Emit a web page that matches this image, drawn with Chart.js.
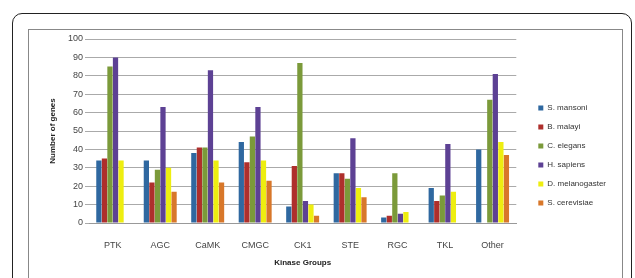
<!DOCTYPE html>
<html lang="en">
<head>
  <meta charset="UTF-8">
  <title>Kinase Groups</title>
  <style>
    html, body {
      margin: 0;
      padding: 0;
      width: 635px;
      height: 278px;
      overflow: hidden;
      background: #fff;
      font-family: "Liberation Sans", Arial, sans-serif;
    }
    #outer {
      position: absolute;
      left: 12px;
      top: 13px;
      width: 618px;
      height: 300px;
      border: 1.5px solid #222;
      border-radius: 10px;
    }
    #inner {
      position: absolute;
      left: 28px;
      top: 29px;
      width: 593px;
      height: 300px;
      border: 1px solid #888;
    }
    #wrap {
      position: absolute;
      left: 29px;
      top: 30px;
      width: 592px;
      height: 248px;
    }
  </style>
  <script src="https://cdn.jsdelivr.net/npm/chart.js"></script>
</head>
<body>
  <div id="outer"></div>
  <div id="inner"></div>
  <div id="wrap"><canvas id="myChart"></canvas></div>

  <script>
    // data
    const categories = ['PTK', 'AGC', 'CaMK', 'CMGC', 'CK1', 'STE', 'RGC', 'TKL', 'Other'];
    const sMansoni      = [34, 34, 38, 44,  9, 27, 3, 19, 40];
    const bMalayi       = [35, 22, 41, 33, 31, 27, 4, 12,  0];
    const cElegans      = [85, 29, 41, 47, 87, 24, 27, 15, 67];
    const hSapiens      = [90, 63, 83, 63, 12, 46, 5, 43, 81];
    const dMelanogaster = [34, 30, 34, 34, 10, 19, 6, 17, 44];
    const sCerevisiae   = [ 0, 17, 22, 23,  4, 14, 0,  0, 37];
    const yTicks = [0, 10, 20, 30, 40, 50, 60, 70, 80, 90, 100];

    const series = [
      { label: 'S. mansoni', data: sMansoni, color: '#2f68a0' },
      { label: 'B. malayi', data: bMalayi, color: '#ae2f2c' },
      { label: 'C. elegans', data: cElegans, color: '#7b9a3a' },
      { label: 'H. sapiens', data: hSapiens, color: '#5d4194' },
      { label: 'D. melanogaster', data: dMelanogaster, color: '#eeee10' },
      { label: 'S. cerevisiae', data: sCerevisiae, color: '#d8772a' }
    ];

    const ctx = document.getElementById('myChart').getContext('2d');
    const myChart = new Chart(ctx, {
      type: 'bar',
      data: {
        labels: categories,
        datasets: series.map(s => ({
          label: s.label,
          data: s.data,
          backgroundColor: s.color,
          borderWidth: 0,
          categoryPercentage: 0.7,
          barPercentage: 0.95
        }))
      },
      options: {
        responsive: true,
        maintainAspectRatio: false,
        animation: false,
        layout: { padding: { left: 15, top: 9, right: 5, bottom: 6 } },
        plugins: {
          tooltip: { enabled: false },
          legend: {
            position: 'right',
            labels: {
              boxWidth: 5,
              boxHeight: 5,
              padding: 11,
              color: '#333',
              font: { family: 'Liberation Sans', size: 8 }
            }
          }
        },
        scales: {
          x: {
            grid: { display: false },
            border: { color: '#999' },
            ticks: { color: '#444', font: { family: 'Liberation Sans', size: 9 }, padding: 9 },
            title: {
              display: true,
              text: 'Kinase Groups',
              color: '#222',
              font: { family: 'Liberation Sans', size: 8, weight: 'bold' },
              padding: { top: 2 }
            },
            afterFit: s => { s.height = 49; }
          },
          y: {
            min: 0,
            max: 100,
            afterBuildTicks: s => { s.ticks = yTicks.map(v => ({ value: v })); },
            grid: { color: '#aaa', tickLength: 4 },
            border: { display: false },
            ticks: { color: '#444', font: { family: 'Liberation Sans', size: 9 }, padding: 2 },
            title: {
              display: true,
              text: 'Number of genes',
              color: '#222',
              font: { family: 'Liberation Sans', size: 8, weight: 'bold' },
              padding: { top: 4, bottom: 2 }
            },
            afterFit: s => { s.width = 45; }
          },
          // empty gap between the plot and the legend
          gap: {
            position: 'right',
            min: 0,
            max: 1,
            grid: { display: false },
            border: { display: false },
            ticks: { display: false },
            afterFit: s => { s.width = 11; }
          }
        }
      }
    });
  </script>
</body>
</html>
